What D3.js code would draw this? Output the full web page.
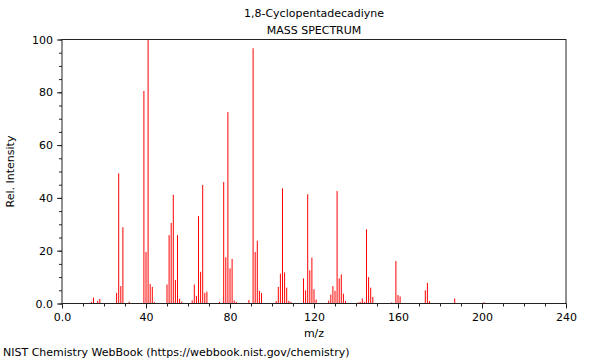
<!DOCTYPE html>
<html><head><meta charset="utf-8">
<script src="https://cdn.jsdelivr.net/npm/d3@7"></script>
<style>body{margin:0;background:#fff}svg{display:block;font-family:"DejaVu Sans",sans-serif}</style>
</head><body><svg id="c" width="600" height="360"></svg>
<script>
const mz = [14,15,17,18,26,27,28,29,32,39,40,41,42,43,44,50,51,52,53,54,55,56,57,62,63,64,65,66,67,68,69,75,77,78,79,80,81,82,83,89,91,92,93,94,95,102,103,104,105,106,107,108,109,115,116,117,118,119,120,121,127,128,129,130,131,132,133,134,135,141,142,143,144,145,146,147,148,157,159,160,161,173,174,175,187,201];
const intensity = [0.6,2.2,1.0,1.7,4,49.3,6.6,28.9,0.7,80.5,19.5,100,7.4,6.3,0.5,7.2,25.9,30.5,41.2,8.9,25.9,1.8,0.7,1.2,7.2,2.9,33.1,12,44.9,4,4.5,0.6,46,17.5,72.5,13.3,16.9,1.2,0.6,1.3,96.7,19.5,23.8,4.8,4,0.9,6.3,11.3,43.6,11.8,6,1,0.6,9.5,5,41.4,12.6,17.4,5.4,1.5,1.1,3.4,6.6,4.8,42.6,9.5,11,3.7,1,0.4,0.6,1.9,0.6,28.1,10,6,2.5,0.4,16.1,3.2,2.7,5,7.8,0.9,1.9,0.5];
const xTickLabels = [0,40,80,120,160,200,240];
const yTickLabels = [0,20,40,60,80,100];
const title = "1,8-Cyclopentadecadiyne";
const subtitle = "MASS SPECTRUM";
const xLabel = "m/z";
const yLabel = "Rel. Intensity";
const footer = "NIST Chemistry WebBook (https://webbook.nist.gov/chemistry)";

const svg = d3.select("#c");
const L = 62, R = 566, T = 39.5, B = 303.5;
const x = d3.scaleLinear().domain([0,240]).range([L,R]);
const y = d3.scaleLinear().domain([0,100]).range([B,T]);
const fmt = v => v === 0 ? "0.0" : String(v);
const axisCol = "#222";

// peaks
svg.append("g").selectAll("line").data(mz).join("line")
  .attr("x1", d => x(d)).attr("x2", d => x(d))
  .attr("y1", y(0)).attr("y2", (d,i) => y(intensity[i]))
  .attr("stroke", "#ff0000").attr("stroke-width", 1);

// frame
svg.append("rect").attr("x", L).attr("y", T).attr("width", R-L).attr("height", B-T)
  .attr("fill", "none").attr("stroke", axisCol).attr("stroke-width", 1);

// x axis minor + major
const gx = svg.append("g").attr("transform", `translate(0,${B})`);
gx.call(d3.axisBottom(x).tickValues(d3.range(0,241,10)).tickSize(3).tickFormat(""))
  .call(g => g.select(".domain").remove())
  .call(g => g.selectAll("line").attr("stroke", axisCol));
const gx2 = svg.append("g").attr("transform", `translate(0,${B})`);
gx2.call(d3.axisBottom(x).tickValues(xTickLabels).tickSize(5).tickPadding(5).tickFormat(fmt))
  .call(g => g.select(".domain").remove())
  .call(g => g.selectAll("line").attr("stroke", axisCol))
  .call(g => g.selectAll("text").attr("fill", "#000").style("font-size", "11px").style("font-family", "DejaVu Sans"));

const gy = svg.append("g").attr("transform", `translate(${L},0)`);
gy.call(d3.axisLeft(y).tickValues(d3.range(0,101,5)).tickSize(3).tickFormat(""))
  .call(g => g.select(".domain").remove())
  .call(g => g.selectAll("line").attr("stroke", axisCol));
const gy2 = svg.append("g").attr("transform", `translate(${L},0)`);
gy2.call(d3.axisLeft(y).tickValues(yTickLabels).tickSize(5).tickPadding(4).tickFormat(fmt))
  .call(g => g.select(".domain").remove())
  .call(g => g.selectAll("line").attr("stroke", axisCol))
  .call(g => g.selectAll("text").attr("fill", "#000").style("font-size", "11px").style("font-family", "DejaVu Sans"));

const txt = (s, px, py, anchor) => svg.append("text").attr("x", px).attr("y", py)
  .attr("text-anchor", anchor).attr("font-size", 11).attr("fill", "#000").text(s);
txt(title, 314, 17, "middle");
txt(subtitle, 314, 34, "middle");
txt(xLabel, 314, 337, "middle");
txt(footer, 3, 356, "start");
svg.append("text").attr("transform", `translate(14,${(T+B)/2}) rotate(-90)`)
  .attr("text-anchor", "middle").attr("font-size", 11).attr("fill", "#000").text(yLabel);
</script></body></html>
